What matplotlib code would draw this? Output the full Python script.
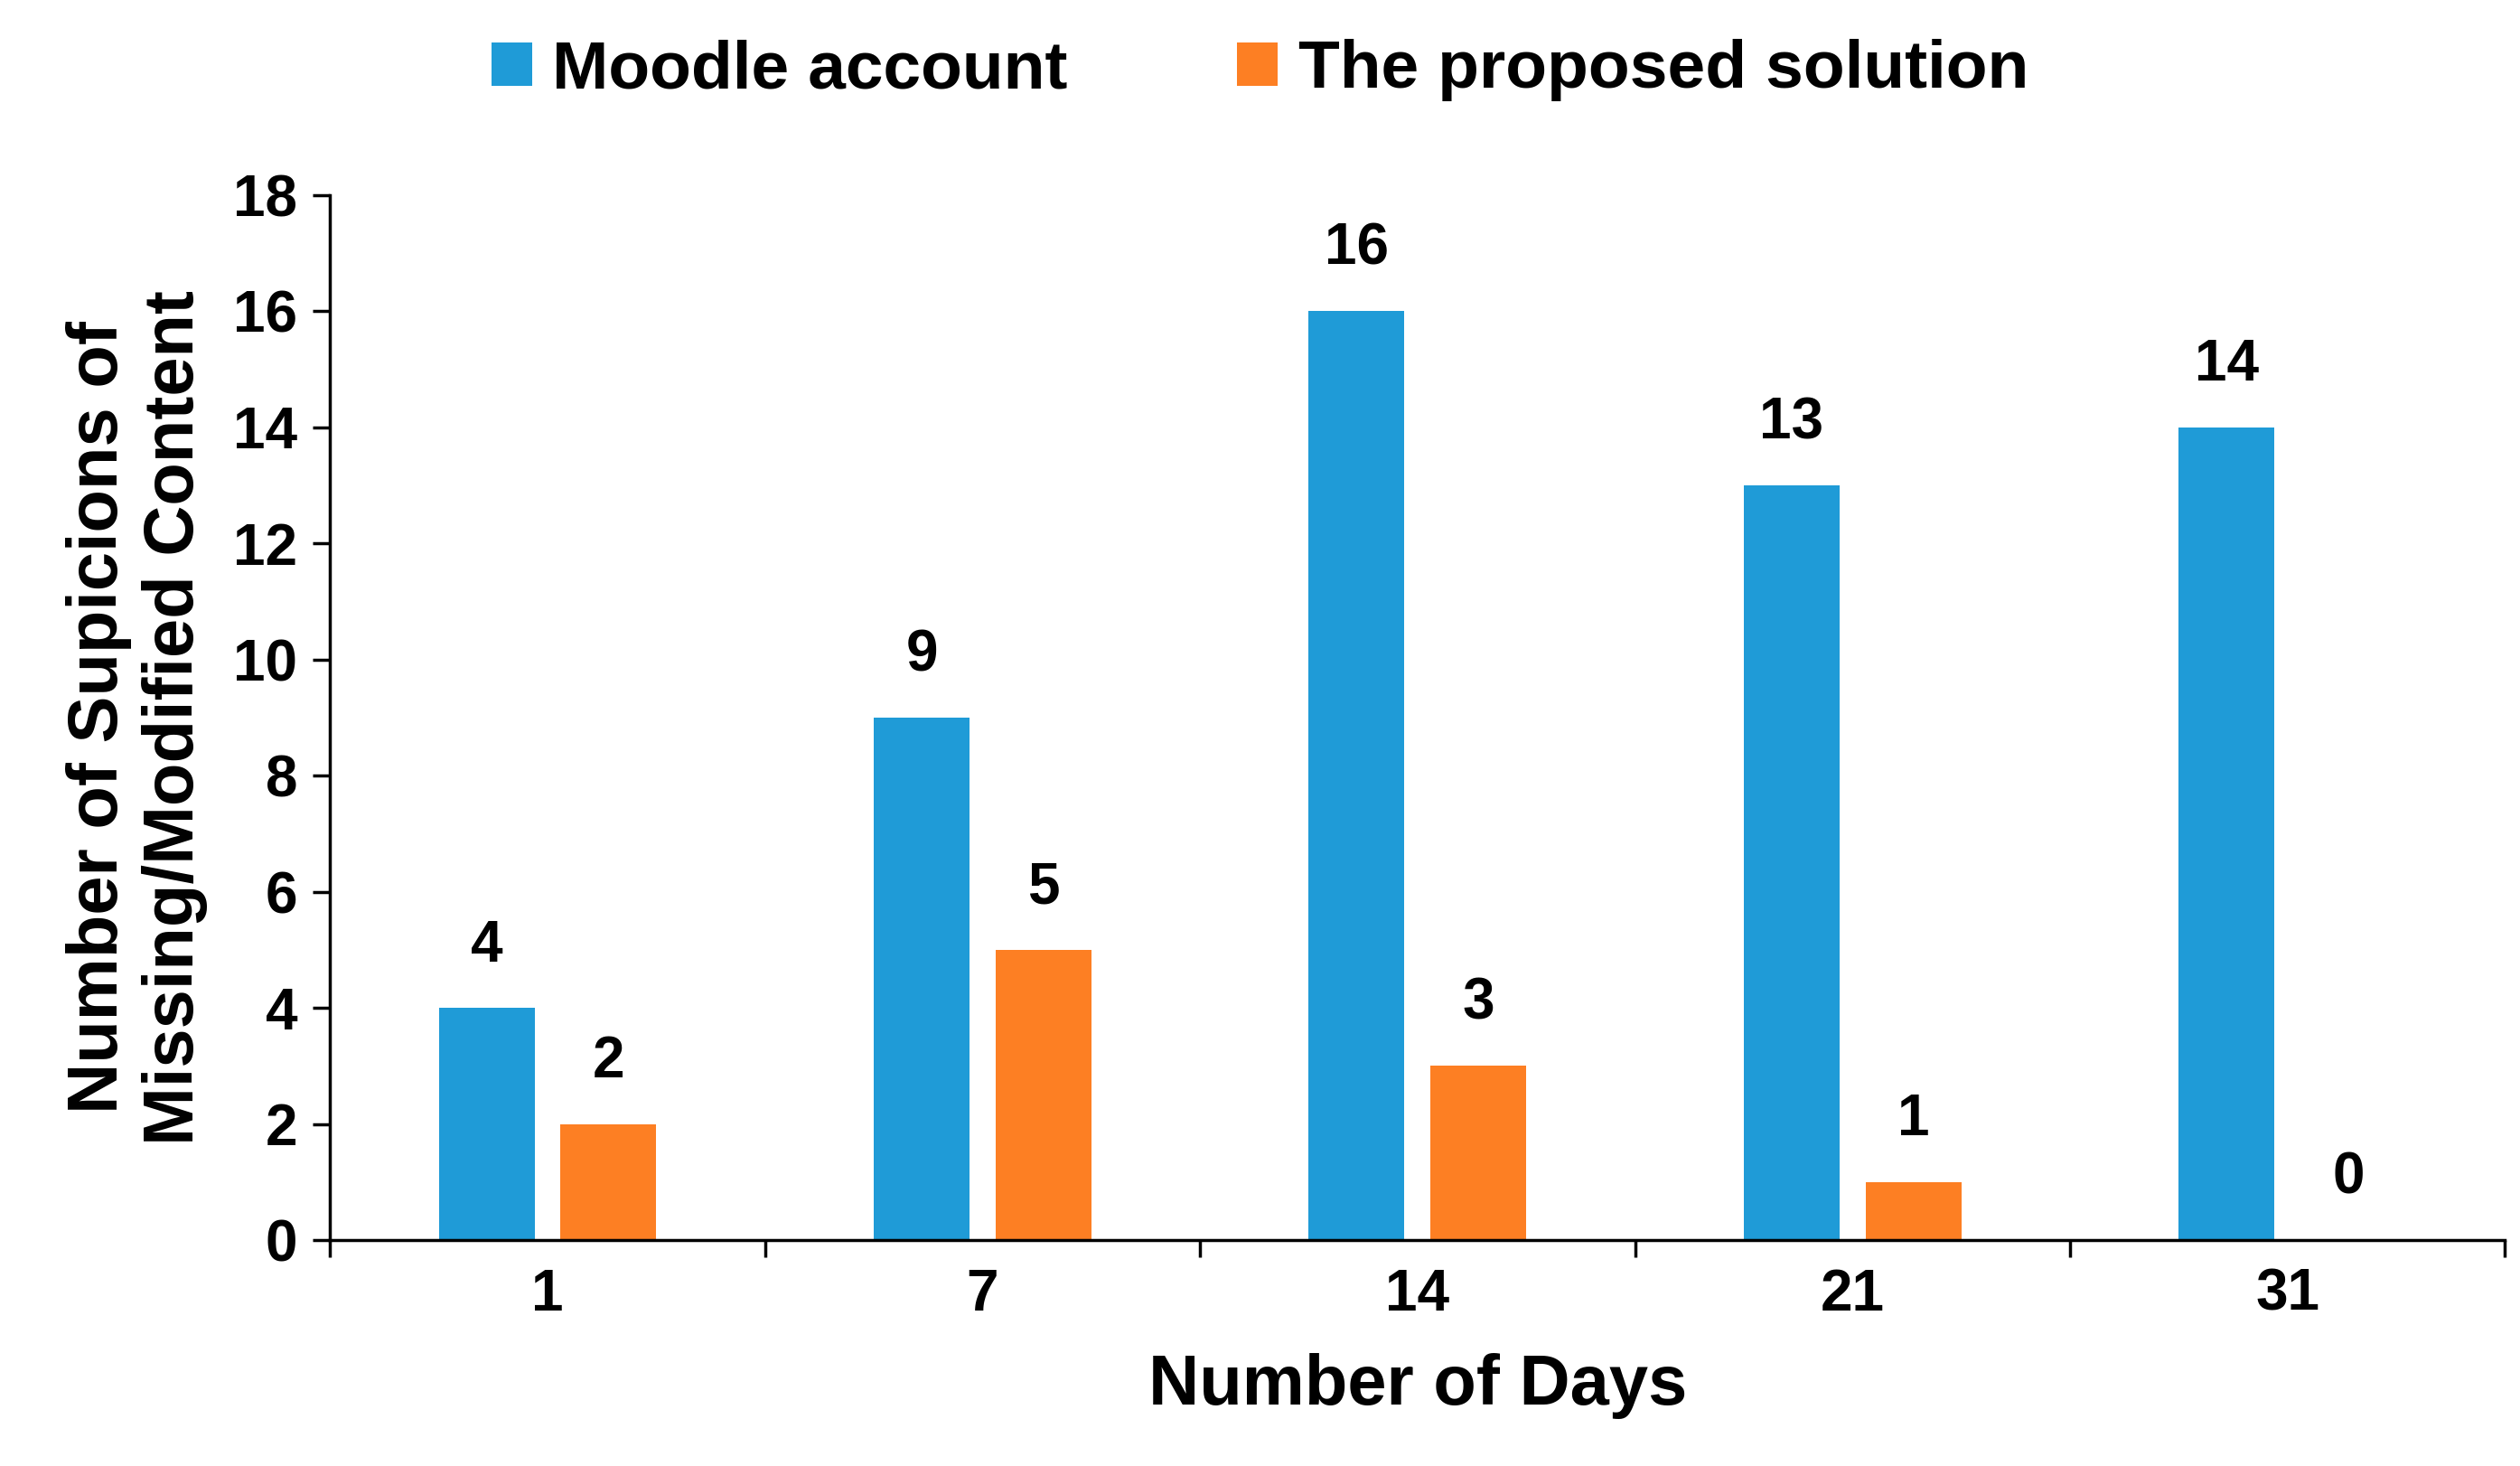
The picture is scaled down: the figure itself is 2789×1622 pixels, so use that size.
import matplotlib
matplotlib.use("Agg")
import matplotlib.pyplot as plt
import numpy as np

plt.rcParams['font.family'] = ['Liberation Sans', 'DejaVu Sans']
plt.rcParams['font.weight'] = 'bold'

days = ["1", "7", "14", "21", "31"]
moodle = [4, 9, 16, 13, 14]
proposed = [2, 5, 3, 1, 0]

fig = plt.figure(figsize=(27.89, 16.22), dpi=100)
ax = fig.add_axes([0.131, 0.154, 0.863, 0.713])
x = np.arange(len(days))
w = 0.22
off = 0.14
b1 = ax.bar(x - off, moodle, w, color='#1f9bd7', label='Moodle account')
b2 = ax.bar(x + off, proposed, w, color='#fd7f23', label='The proposed solution')
for rects, vals in ((b1, moodle), (b2, proposed)):
    for r, v in zip(rects, vals):
        ax.text(r.get_x() + r.get_width()/2, v + 0.6, str(v), ha='center', va='bottom',
                fontsize=46, fontweight='bold')
ax.set_xlim(-0.5, 4.5)
ax.set_ylim(0, 18)
ax.set_yticks(range(0, 19, 2))
ax.set_xticks(x)
ax.set_xticklabels(days)
ax.set_xticks(np.arange(-0.5, 5, 1), minor=True)
ax.tick_params(axis='x', which='major', length=0, pad=22, labelsize=46)
ax.tick_params(axis='x', which='minor', length=14, width=2.5, direction='out')
ax.tick_params(axis='y', length=14, width=2.5, direction='out', labelsize=46, pad=12)
for s in ('top', 'right'):
    ax.spines[s].set_visible(False)
for s in ('left', 'bottom'):
    ax.spines[s].set_linewidth(2.5)
ax.set_xlabel('Number of Days', fontsize=56, fontweight='bold', labelpad=25)
ax.set_ylabel('Number of Supicions of\nMissing/Modified Content', fontsize=56, fontweight='bold', labelpad=20)
fig.legend(handles=[b1, b2], loc='upper center', bbox_to_anchor=(0.5, 1.015), ncol=2,
           frameon=False, fontsize=54, handlelength=0.6, handleheight=0.6, columnspacing=2.5, handletextpad=0.3)
fig.savefig('out.png', dpi=100)
